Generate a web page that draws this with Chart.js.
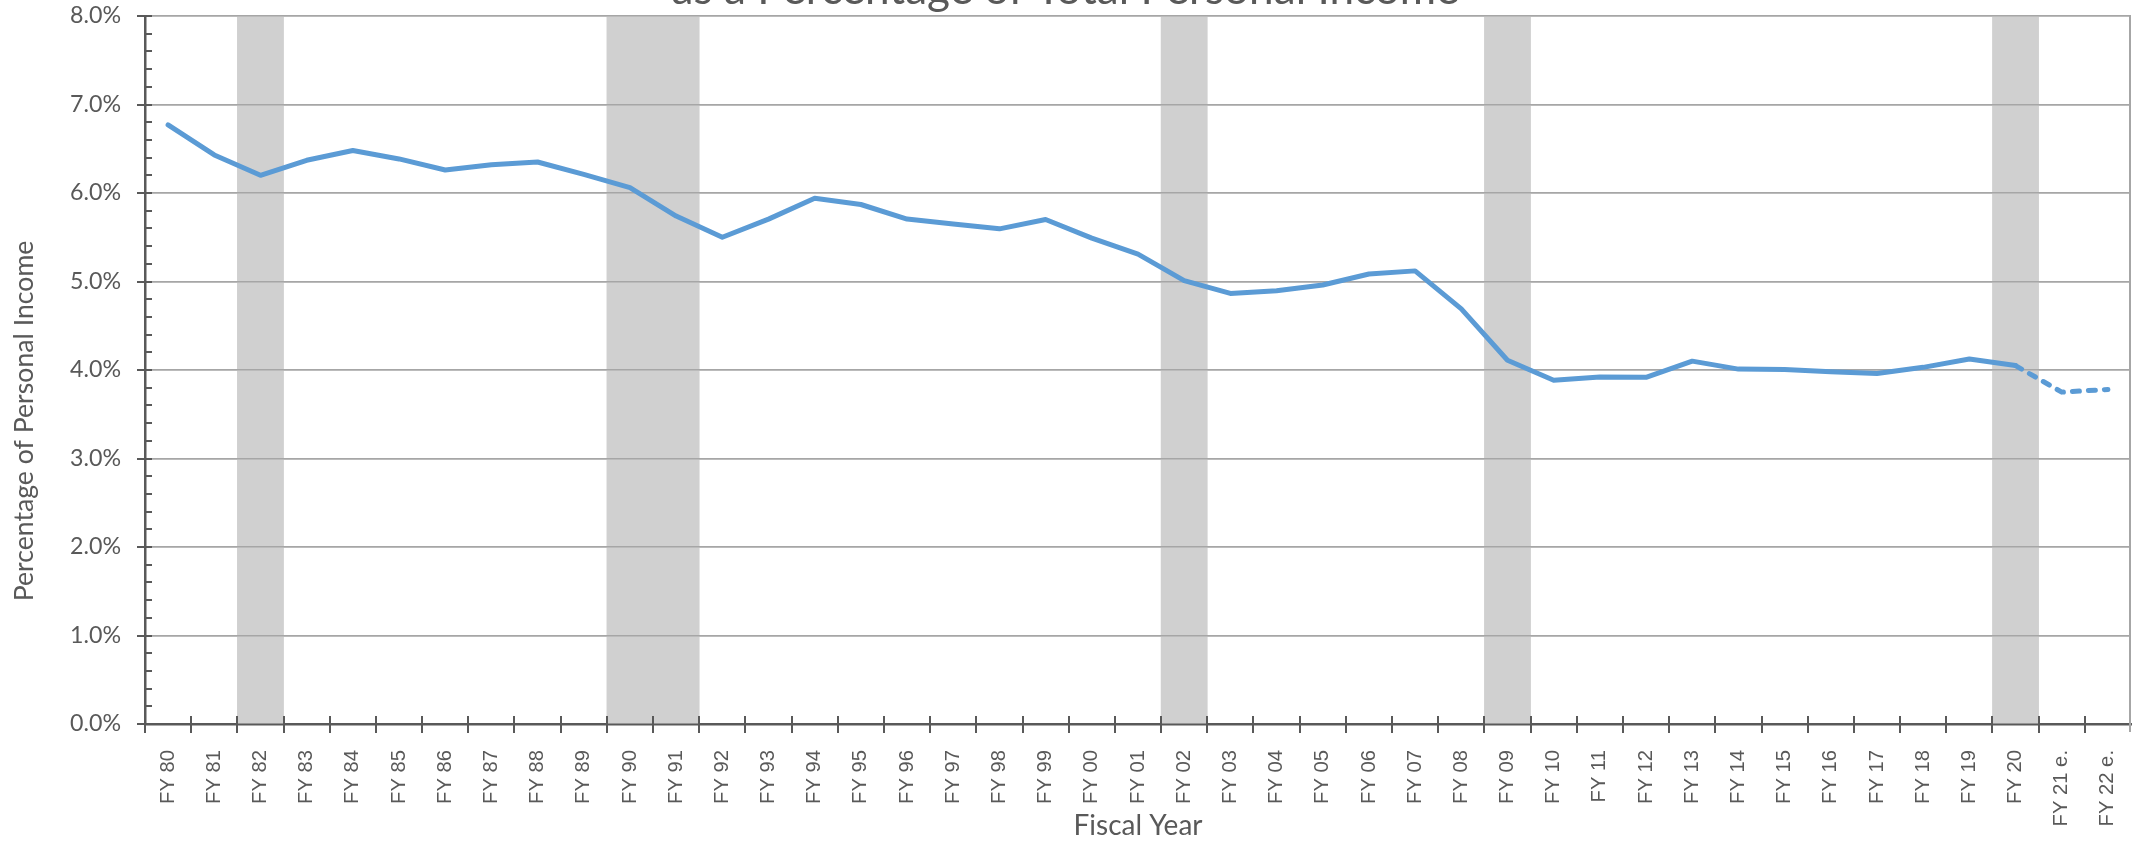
<!DOCTYPE html>
<html>
<head>
<meta charset="utf-8">
<script src="https://cdn.jsdelivr.net/npm/chart.js@4.4.1/dist/chart.umd.min.js"></script>
<style>
html,body{margin:0;padding:0;background:#fff;overflow:hidden}
#wrap{width:2134px;height:843px;position:relative}
canvas{display:block}
</style>
</head>
<body>
<div id="wrap"><canvas id="chart" width="2134" height="843"></canvas></div>
<script>
// ---------------- data ----------------
const categories = [
  'FY 80','FY 81','FY 82','FY 83','FY 84','FY 85','FY 86','FY 87','FY 88','FY 89',
  'FY 90','FY 91','FY 92','FY 93','FY 94','FY 95','FY 96','FY 97','FY 98','FY 99',
  'FY 00','FY 01','FY 02','FY 03','FY 04','FY 05','FY 06','FY 07','FY 08','FY 09',
  'FY 10','FY 11','FY 12','FY 13','FY 14','FY 15','FY 16','FY 17','FY 18','FY 19',
  'FY 20','FY 21 e.','FY 22 e.'
];
const shareOfIncome = [
  6.77, 6.43, 6.20, 6.37, 6.48, 6.385, 6.26, 6.32, 6.35, 6.21,
  6.06, 5.74, 5.50, 5.705, 5.94, 5.87, 5.705, 5.65, 5.595, 5.70,
  5.49, 5.31, 5.01, 4.865, 4.895, 4.96, 5.085, 5.12, 4.69, 4.11,
  3.885, 3.92, 3.917, 4.10, 4.01, 4.005, 3.98, 3.96, 4.03, 4.125,
  4.05, 3.75, 3.78
];
const recessionYears = ['FY 82','FY 90','FY 91','FY 02','FY 09','FY 20'];
const lastActualYear = 'FY 20';
const yTickValues = [0, 1, 2, 3, 4, 5, 6, 7, 8];

const titleText = 'as a Percentage of Total Personal Income';
const yAxisTitle = 'Percentage of Personal Income';
const xAxisTitle = 'Fiscal Year';

// ---------------- style ----------------
const TEXT = '#595959';
const AXIS = '#595959';
const GRID = '#a6a6a6';
const BAND = '#d0d0d0';
const LINE = '#5b9bd5';
const FONT_CAL = 'Lato, "Open Sans", sans-serif';
const FONT_NARROW = '"Liberation Sans Narrow", "Arial Narrow", "Liberation Sans", Arial, sans-serif';

const mctx = document.createElement('canvas').getContext('2d');
function measure(text, size, family) { mctx.font = size + 'px ' + family; return mctx.measureText(text); }
function fit(text, family, w) { return +(w / measure(text, 100, family).width * 100).toFixed(2); }
function midOffset(size, family) { const m = measure('Hg', size, family); return (m.fontBoundingBoxAscent - m.fontBoundingBoxDescent) / 2; }

const titleSize = fit(titleText, FONT_CAL, 788);
const yTitleSize = fit(yAxisTitle, FONT_CAL, 361);
const xTitleSize = fit(xAxisTitle, FONT_CAL, 129);
const yTickSize = fit('0.0%', FONT_CAL, 51);
const xTickSize = fit('FY 80', FONT_NARROW, 54);

const titleLH = titleSize * 1.2;
const titleMid = 7 - midOffset(titleSize, FONT_CAL);
const titlePadTop = titleMid - titleLH / 2;
const titlePadBottom = 16 - titleLH - titlePadTop;

const xTitleLH = xTitleSize * 1.2;
const xTitleMid = 837 - midOffset(xTitleSize, FONT_CAL);
const xTitlePadBottom = 843 - xTitleLH / 2 - xTitleMid;

const Y_MAX = yTickValues[yTickValues.length - 1];
const estStart = categories.indexOf(lastActualYear);
const bandData = categories.map(c => recessionYears.includes(c) ? Y_MAX : null);

function align(px, w) { return Math.round(px - w / 2) + w / 2; }

const decor = {
  id: 'decor',
  afterDatasetDraw(chart, args) {
    if (args.index !== 0) return;
    const { ctx, chartArea: a, scales: { y } } = chart;
    ctx.save();
    ctx.strokeStyle = GRID; ctx.lineWidth = 1.5;
    yTickValues.forEach(v => {
      if (v === 0) return;
      const py = align(y.getPixelForValue(v), 1.5);
      ctx.beginPath(); ctx.moveTo(a.left, py); ctx.lineTo(a.right, py); ctx.stroke();
    });
    ctx.restore();
  },
  afterDraw(chart) {
    const { ctx, chartArea: a, scales: { x, y } } = chart;
    ctx.save();
    // right border
    ctx.strokeStyle = GRID; ctx.lineWidth = 2;
    ctx.beginPath(); ctx.moveTo(align(a.right, 2) - 1, a.top); ctx.lineTo(align(a.right, 2) - 1, a.bottom + 8); ctx.stroke();
    // y ticks
    ctx.strokeStyle = AXIS; ctx.lineWidth = 2;
    for (let k = 0; k <= Y_MAX * 5; k++) {
      const v = k / 5;
      const py = align(y.getPixelForValue(v), 2);
      ctx.beginPath();
      if (k % 5 === 0) { ctx.moveTo(a.left - 8, py); ctx.lineTo(a.left + 7, py); }
      else { ctx.moveTo(a.left, py); ctx.lineTo(a.left + 7, py); }
      ctx.stroke();
    }
    // x ticks at category boundaries
    const w = x.getPixelForValue(1) - x.getPixelForValue(0);
    for (let i = 0; i < categories.length; i++) {
      const bx = align(x.getPixelForValue(i) - w / 2, 2);
      ctx.beginPath(); ctx.moveTo(bx, a.bottom - 8); ctx.lineTo(bx, a.bottom + 9); ctx.stroke();
    }
    // y axis title
    ctx.fillStyle = TEXT;
    ctx.font = yTitleSize + 'px ' + FONT_CAL;
    ctx.textAlign = 'center'; ctx.textBaseline = 'alphabetic';
    ctx.translate(33, 421); ctx.rotate(-Math.PI / 2);
    ctx.fillText(yAxisTitle, 0, 0);
    ctx.restore();
  }
};

new Chart(document.getElementById('chart'), {
  type: 'bar',
  data: {
    labels: categories,
    datasets: [
      {
        type: 'bar', data: bandData, backgroundColor: BAND, borderWidth: 0,
        barPercentage: 1, categoryPercentage: 1, order: 2
      },
      {
        type: 'line', data: shareOfIncome, borderColor: LINE, borderWidth: 5,
        pointRadius: 0, fill: false, tension: 0, order: 1,
        borderJoinStyle: 'round', borderCapStyle: 'round',
        segment: { borderDash: ctx => ctx.p0DataIndex >= estStart ? [7, 9] : undefined }
      }
    ]
  },
  options: {
    responsive: false, animation: false, devicePixelRatio: 1,
    layout: { padding: { left: 0, right: 3, top: 0, bottom: 0 } },
    plugins: {
      legend: { display: false },
      tooltip: { enabled: false },
      title: {
        display: true, text: titleText, color: TEXT,
        font: { family: FONT_CAL, size: titleSize, weight: 'normal', lineHeight: 1.2 },
        padding: { top: titlePadTop, bottom: titlePadBottom }
      }
    },
    scales: {
      x: {
        offset: true,
        grid: { display: false, offset: true },
        border: { display: true, color: AXIS, width: 2.5 },
        ticks: {
          autoSkip: false, maxRotation: 90, minRotation: 90, padding: 18,
          color: TEXT, font: { family: FONT_NARROW, size: xTickSize }
        },
        title: {
          display: true, text: xAxisTitle, color: TEXT,
          font: { family: FONT_CAL, size: xTitleSize, lineHeight: 1.2 },
          padding: { top: 0, bottom: xTitlePadBottom }
        },
        afterFit: s => { s.height = 119; s.paddingLeft = 0; s.paddingRight = 0; }
      },
      y: {
        min: 0, max: Y_MAX,
        afterBuildTicks: s => { s.ticks = yTickValues.map(v => ({ value: v })); },
        grid: { color: c => c.tick && c.tick.value === 0 ? 'rgba(0,0,0,0)' : GRID, lineWidth: 1.5, drawTicks: false },
        border: { display: true, color: AXIS, width: 2.5 },
        ticks: {
          padding: 24, color: TEXT, font: { family: FONT_CAL, size: yTickSize },
          callback: v => Number(v).toFixed(1) + '%'
        },
        afterFit: s => { s.width = 145; s.paddingTop = 0; s.paddingBottom = 0; }
      }
    }
  },
  plugins: [decor]
});
</script>
</body>
</html>
